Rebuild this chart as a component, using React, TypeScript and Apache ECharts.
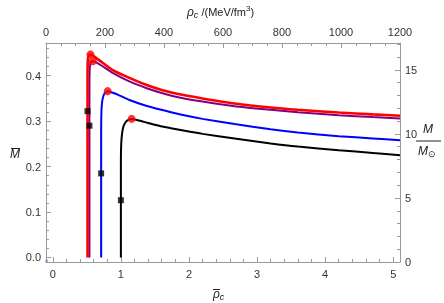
import React, { useEffect, useRef } from "react";
import * as echarts from "echarts";

// Curves (rho_c bar, M bar)
const blackX = [1.0, 1.0, 1.0, 1.005, 1.015, 1.03, 1.05, 1.076, 1.11, 1.158, 1.25, 1.4, 1.61, 1.86, 2.2, 2.67, 3.2, 3.6, 4.2, 4.7, 5.1];
const blackY = [0, 0.126, 0.214, 0.25, 0.27, 0.284, 0.293, 0.299, 0.303, 0.305, 0.302, 0.296, 0.288, 0.281, 0.272, 0.262, 0.251, 0.244, 0.236, 0.23, 0.225];
const blueX = [0.71, 0.71, 0.71, 0.713, 0.718, 0.73, 0.758, 0.806, 0.87, 0.96, 1.125, 1.37, 1.61, 1.86, 2.2, 2.67, 3.2, 3.6, 4.2, 4.7, 5.1];
const blueY = [0, 0.185, 0.28, 0.315, 0.332, 0.348, 0.361, 0.366, 0.363, 0.358, 0.3465, 0.334, 0.3245, 0.315, 0.305, 0.2936, 0.282, 0.275, 0.267, 0.262, 0.258];
const purpleX = [0.538, 0.538, 0.538, 0.541, 0.548, 0.562, 0.587, 0.63, 0.72, 0.88, 1.1, 1.37, 1.6, 1.86, 2.2, 2.67, 3.2, 3.6, 4.2, 4.7, 5.1];
const purpleY = [0, 0.29, 0.38, 0.41, 0.424, 0.431, 0.432, 0.43, 0.422, 0.406, 0.389, 0.373, 0.362, 0.352, 0.343, 0.333, 0.325, 0.3195, 0.313, 0.309, 0.306];
const redX = [0.51, 0.51, 0.51, 0.513, 0.52, 0.535, 0.553, 0.6, 0.7, 0.88, 1.1, 1.37, 1.6, 1.86, 2.2, 2.67, 3.2, 3.6, 4.2, 4.7, 5.1];
const redY = [0, 0.322, 0.4, 0.43, 0.441, 0.446, 0.447, 0.443, 0.432, 0.4125, 0.397, 0.38, 0.3685, 0.359, 0.35, 0.339, 0.33, 0.325, 0.319, 0.315, 0.312];

// Maximum-mass points (red dots)
const peakX = [0.553, 0.587, 0.806, 1.158];
const peakY = [0.447, 0.432, 0.366, 0.305];
// Black square markers
const markX = [0.51, 0.538, 0.71, 1.0];
const markY = [0.322, 0.29, 0.185, 0.126];

// Tick labels
const bottomTicks = [0, 1, 2, 3, 4, 5];
const topTicks = [0, 200, 400, 600, 800, 1000, 1200];
const leftTicks = [0, 0.1, 0.2, 0.3, 0.4];
const rightTicks = [0, 5, 10, 15];

function steps(a: number, b: number, s: number, skip: number[]): number[] {
  const out: number[] = [];
  const n = Math.round((b - a) / s);
  for (let i = 0; i <= n; i++) {
    const v = +(a + i * s).toFixed(6);
    if (!skip.some((k) => Math.abs(k - v) < 1e-9)) out.push(v);
  }
  return out;
}

const pairs = (xs: number[], ys: number[]) => xs.map((x, i) => [x, ys[i]]);

const LINE = "#9a9a9a";
const LABEL = "#333";
const FONT = "Liberation Sans, Arial, sans-serif";

export default function App() {
  const ref = useRef<HTMLDivElement>(null);
  useEffect(() => {
    if (!ref.current) return;
    const chart = echarts.init(ref.current, null, { renderer: "svg" });
    const X0 = -0.1, X1 = 5.1, Y0 = -0.01, Y1 = 0.472, R1 = 17.1;

    const axisBase = (major: boolean) => ({
      axisLine: { show: major, onZero: false, lineStyle: { color: LINE, width: 1 } },
      splitLine: { show: false },
    });
    const xAx = (pos: string, min: number, max: number, vals: number[], major: boolean, fmt?: (v: number) => string, margin = 5) => ({
      type: "value", position: pos, min, max,
      ...axisBase(major),
      axisTick: { show: true, inside: true, length: major ? 5 : 3, customValues: vals, lineStyle: { color: LINE } },
      axisLabel: major
        ? { show: true, customValues: vals, color: LABEL, fontSize: 11, fontFamily: FONT, margin, formatter: fmt }
        : { show: false },
    });
    const lineSeries = (xs: number[], ys: number[], color: string, width: number, z: number) => ({
      type: "line", data: pairs(xs, ys), showSymbol: false, smooth: 0.2,
      lineStyle: { color, width }, z,
    });

    const option: any = {
      animation: false,
      grid: { left: 46, right: 44, top: 43, bottom: 41, containLabel: false },
      xAxis: [
        xAx("bottom", X0, X1, bottomTicks, true, (v) => String(v), 6),
        xAx("bottom", X0, X1, steps(0, 5.0, 0.2, bottomTicks), false),
        xAx("top", 0, 1200, topTicks, true, (v) => String(v), 6),
        xAx("top", 0, 1200, steps(0, 1200, 50, topTicks), false),
      ],
      yAxis: [
        xAx("left", Y0, Y1, leftTicks, true, (v) => v.toFixed(1), 5),
        xAx("left", Y0, Y1, steps(0, 0.46, 0.02, leftTicks), false),
        xAx("right", 0, R1, rightTicks, true, (v) => String(v), 5),
        xAx("right", 0, R1, steps(0, 17, 1, rightTicks), false),
      ],
      series: [
        lineSeries(blackX, blackY, "#000000", 2, 2),
        lineSeries(blueX, blueY, "#0000ff", 2, 2),
        lineSeries(purpleX, purpleY, "#800080", 2, 2),
        lineSeries(redX, redY, "#ff0000", 2.6, 3),
        { type: "scatter", data: pairs(markX, markY), symbol: "rect", symbolSize: 6, itemStyle: { color: "#000" }, z: 4 },
        { type: "scatter", data: pairs(peakX, peakY), symbol: "circle", symbolSize: 8, itemStyle: { color: "#ff0000" }, z: 5 },
        { type: "scatter", data: [[-0.09, -0.008]], symbol: "circle", symbolSize: 3, itemStyle: { color: "#6a9bd1" }, z: 5 },
      ],
      graphic: [
        // left axis title: M with overline
        { type: "text", left: 10, top: 148, style: { text: "M", font: `italic 12px ${FONT}`, fill: "#222" } },
        { type: "line", shape: { x1: 11, y1: 148.5, x2: 20, y2: 148.5 }, style: { stroke: "#222", lineWidth: 1 } },
        // bottom axis title: rho-bar c
        { type: "text", left: 213, top: 288, style: {
            text: "{i|ρ}{s|c}",
            rich: { i: { font: `italic 12px ${FONT}`, fill: "#222" }, s: { font: `italic 9px ${FONT}`, fill: "#222", padding: [5, 0, 0, 0] } },
          } },
        { type: "line", shape: { x1: 213, y1: 289.5, x2: 220, y2: 289.5 }, style: { stroke: "#222", lineWidth: 1 } },
        // top axis title
        { type: "text", left: 187, top: 4, style: {
            text: "{i|ρ}{s|c}{n| /(MeV/fm}{p|3}{n|)}",
            rich: {
              i: { font: `italic 12px ${FONT}`, fill: "#222" },
              s: { font: `italic 9px ${FONT}`, fill: "#222", padding: [6, 0, 0, 0] },
              n: { font: `11px ${FONT}`, fill: "#222" },
              p: { font: `8px ${FONT}`, fill: "#222", padding: [0, 0, 7, 0] },
            },
          } },
        // right axis title: M / M_sun
        { type: "text", left: 423, top: 123, style: { text: "M", font: `italic 12px ${FONT}`, fill: "#222" } },
        { type: "line", shape: { x1: 416, y1: 141, x2: 441, y2: 141 }, style: { stroke: "#222", lineWidth: 1 } },
        { type: "text", left: 418, top: 145, style: {
            text: "{i|M}{s|⊙}",
            rich: { i: { font: `italic 12px ${FONT}`, fill: "#222" }, s: { font: `9px ${FONT}`, fill: "#222", padding: [6, 0, 0, 0] } },
          } },
      ],
    };
    chart.setOption(option);
    return () => chart.dispose();
  }, []);
  return <div ref={ref} style={{ position: "fixed", left: 0, top: 0, width: 444, height: 303 }} />;
}
